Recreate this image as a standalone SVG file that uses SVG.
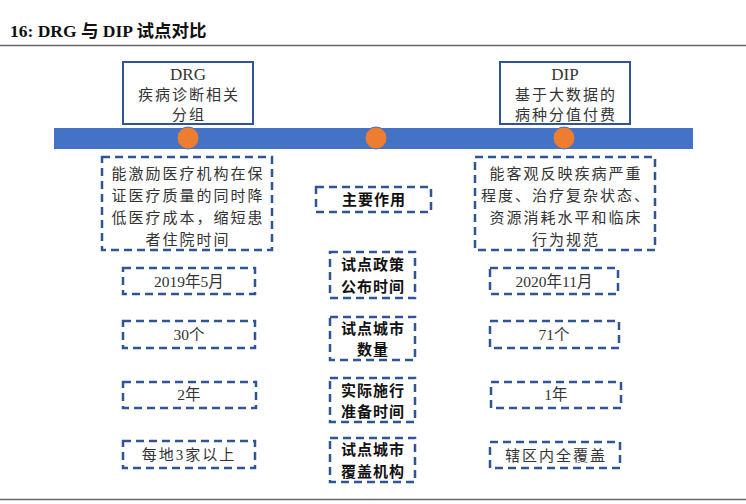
<svg xmlns="http://www.w3.org/2000/svg" width="746" height="504" viewBox="0 0 746 504">
<style>
.t{font-family:"Liberation Serif","Noto Sans CJK SC",serif;font-size:15px;fill:#333;text-anchor:middle;letter-spacing:2px}
.n{font-family:"Liberation Serif","Noto Sans CJK SC",serif;font-size:15.5px;fill:#333;text-anchor:middle}
.h{font-family:"Liberation Serif","Noto Sans CJK SC",serif;font-size:17px;fill:#333;text-anchor:middle}
.b{font-family:"Liberation Serif","Noto Sans CJK SC",serif;font-size:15px;fill:#111;font-weight:bold;text-anchor:middle;letter-spacing:1px}
.solid{fill:#fff;stroke:#2F5597;stroke-width:2}
.dash{fill:#fff;stroke:#2F5597;stroke-width:2.5;stroke-dasharray:8 5}
.dot{fill:#ED7D31;stroke:#4472C4;stroke-width:1}
</style>
<rect width="746" height="504" fill="#fff"/>
<text x="10" y="37" font-family="Liberation Serif,'Noto Sans CJK SC',serif" font-size="17.5" font-weight="bold" fill="#111">16:  DRG 与 DIP 试点对比</text>
<line x1="0" y1="45.5" x2="746" y2="45.5" stroke="#666" stroke-width="1.5"/>
<line x1="0" y1="499.5" x2="746" y2="499.5" stroke="#666" stroke-width="1.5"/>
<g id="timeline">
<rect x="54" y="128" width="639" height="21" fill="#4472C4"/>
<circle class="dot" cx="188" cy="138" r="11"/>
<circle class="dot" cx="376" cy="138" r="11"/>
<circle class="dot" cx="564" cy="138" r="11"/>
</g>
<g id="drg">
<rect class="solid" x="123" y="62" width="130" height="62"/>
<text class="h" x="188" y="80">DRG</text>
<text class="t" x="189" y="100">疾病诊断相关</text>
<text class="t" x="189" y="120">分组</text>
</g>
<g id="dip">
<rect class="solid" x="500" y="62" width="130" height="62"/>
<text class="h" x="565" y="80">DIP</text>
<text class="t" x="566" y="100">基于大数据的</text>
<text class="t" x="566" y="120">病种分值付费</text>
</g>
<g id="drg-role">
<rect class="dash" x="102" y="157" width="170" height="93"/>
<text class="t" x="188" y="179">能激励医疗机构在保</text>
<text class="t" x="188" y="201">证医疗质量的同时降</text>
<text class="t" x="188" y="223">低医疗成本，缩短患</text>
<text class="t" x="188" y="245">者住院时间</text>
</g>
<g id="dip-role">
<rect class="dash" x="475" y="157" width="180" height="93"/>
<text class="t" x="566" y="179">能客观反映疾病严重</text>
<text class="t" x="566" y="201">程度、治疗复杂状态、</text>
<text class="t" x="566" y="223">资源消耗水平和临床</text>
<text class="t" x="566" y="245">行为规范</text>
</g>
<g id="label-role">
<rect class="dash" x="316" y="187" width="115" height="25"/>
<text class="b" x="374" y="205">主要作用</text>
</g>
<g id="label-time">
<rect class="dash" x="330" y="252" width="85" height="46"/>
<text class="b" x="373" y="270">试点政策</text>
<text class="b" x="373" y="292">公布时间</text>
</g>
<g id="label-cities">
<rect class="dash" x="330" y="317" width="85" height="43"/>
<text class="b" x="373" y="334">试点城市</text>
<text class="b" x="373" y="355">数量</text>
</g>
<g id="label-prep">
<rect class="dash" x="330" y="378" width="85" height="44"/>
<text class="b" x="373" y="396">实际施行</text>
<text class="b" x="373" y="417">准备时间</text>
</g>
<g id="label-cover">
<rect class="dash" x="330" y="438" width="85" height="44"/>
<text class="b" x="373" y="455">试点城市</text>
<text class="b" x="373" y="477">覆盖机构</text>
</g>
<g id="drg-time">
<rect class="dash" x="123" y="268" width="132" height="26"/>
<text class="n" x="189" y="287">2019年5月</text>
</g>
<g id="dip-time">
<rect class="dash" x="490" y="268" width="128" height="26"/>
<text class="n" x="554" y="287">2020年11月</text>
</g>
<g id="drg-cities">
<rect class="dash" x="123" y="321" width="132" height="27"/>
<text class="n" x="189" y="340">30个</text>
</g>
<g id="dip-cities">
<rect class="dash" x="490" y="321" width="129" height="27"/>
<text class="n" x="554" y="340">71个</text>
</g>
<g id="drg-prep">
<rect class="dash" x="123" y="382" width="133" height="26"/>
<text class="n" x="189" y="400">2年</text>
</g>
<g id="dip-prep">
<rect class="dash" x="491" y="382" width="130" height="26"/>
<text class="n" x="556" y="400">1年</text>
</g>
<g id="drg-cover">
<rect class="dash" x="123" y="441" width="132" height="27"/>
<text class="t" x="189" y="460">每地3家以上</text>
</g>
<g id="dip-cover">
<rect class="dash" x="490" y="442" width="130" height="26"/>
<text class="t" x="556" y="461">辖区内全覆盖</text>
</g>
<g id="connectors"></g>
</svg>
